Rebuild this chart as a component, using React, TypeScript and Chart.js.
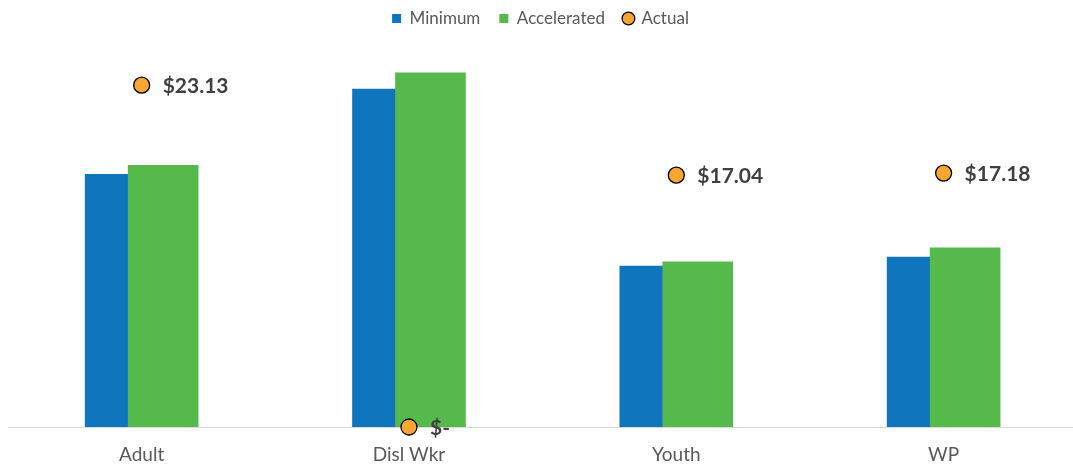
import React, { useEffect, useRef } from "react";
import { Chart, registerables } from "chart.js";

Chart.register(...registerables);

const categories = ["Adult", "Disl Wkr", "Youth", "WP"];
const minimumValues = [17.09, 22.87, 10.89, 11.49];
const acceleratedValues = [17.71, 23.97, 11.18, 12.12];
const actualValues = [23.13, 0, 17.04, 17.18];

const BLUE = "#0F75BD";
const GREEN = "#56B94B";
const ORANGE = "#F9A533";
const BAR_SHIFT = 0.0804;

const formatMoney = (v: number) => (v === 0 ? "$-" : "$" + v.toFixed(2));

const labelPlugin = {
  id: "actualLabels",
  afterDatasetsDraw(chart: any) {
    const meta = chart.getDatasetMeta(2);
    const ctx = chart.ctx;
    ctx.save();
    ctx.font = "bold 21px Lato";
    ctx.fillStyle = "#404040";
    ctx.textAlign = "left";
    ctx.textBaseline = "middle";
    meta.data.forEach((pt: any, i: number) => {
      ctx.fillText(formatMoney(actualValues[i]), pt.x + 21, pt.y + 1);
    });
    ctx.restore();
  },
};

export default function App() {
  const ref = useRef<HTMLCanvasElement | null>(null);
  useEffect(() => {
    if (!ref.current) return;
    const chart = new Chart(ref.current, {
      type: "bar",
      data: {
        datasets: [
          {
            label: "Minimum",
            data: minimumValues.map((v, i) => ({ x: i - BAR_SHIFT, y: v })),
            backgroundColor: BLUE,
            barThickness: 70,
            grouped: false,
            order: 2,
          } as any,
          {
            label: "Accelerated",
            data: acceleratedValues.map((v, i) => ({ x: i + BAR_SHIFT, y: v })),
            backgroundColor: GREEN,
            barThickness: 70,
            grouped: false,
            order: 1,
          } as any,
          {
            type: "scatter",
            label: "Actual",
            data: actualValues.map((v, i) => ({ x: i, y: v })),
            backgroundColor: ORANGE,
            borderColor: "#000000",
            borderWidth: 1.3,
            pointRadius: 8,
            clip: false,
            order: 0,
          } as any,
        ],
      },
      options: {
        animation: false,
        responsive: true,
        maintainAspectRatio: false,
        layout: { autoPadding: false, padding: { left: 8, right: 0, top: -9, bottom: 0 } },
        scales: {
          x: {
            type: "linear",
            offset: false,
            min: -0.5,
            max: 3.484,
            grid: { display: false, drawTicks: false },
            border: { display: true, color: "#D9D9D9", width: 1 },
            afterFit: (s: any) => {
              s.height = 39;
              s.paddingLeft = 0;
              s.paddingRight = 0;
            },
            ticks: {
              stepSize: 1,
              autoSkip: false,
              includeBounds: false,
              maxRotation: 0,
              padding: 16,
              color: "#595959",
              font: { family: "Lato", size: 19 },
              callback: (v: any) =>
                Number.isInteger(v) && categories[v] !== undefined ? categories[v] : "",
            },
          },
          y: {
            display: false,
            min: 0,
            max: 26.39,
          },
        },
        plugins: {
          tooltip: { enabled: false },
          legend: {
            position: "top",
            labels: {
              usePointStyle: true,
              boxWidth: 9,
              boxHeight: 9,
              padding: 19,
              color: "#595959",
              font: { family: "Lato", size: 17 },
              sort: (a: any, b: any) => a.datasetIndex - b.datasetIndex,
              generateLabels: (c: any) => {
                const items = Chart.defaults.plugins.legend.labels.generateLabels(c);
                return items.map((it: any) => ({
                  ...it,
                  pointStyle: it.datasetIndex === 2 ? "circle" : "rect",
                  lineWidth: it.datasetIndex === 2 ? 1.3 : 0,
                  strokeStyle: it.datasetIndex === 2 ? "#000000" : it.fillStyle,
                }));
              },
            },
          },
        },
      },
      plugins: [labelPlugin],
    });
    return () => chart.destroy();
  }, []);

  return (
    <div
      style={{
        position: "fixed",
        left: 0,
        top: 0,
        width: 1073,
        height: 466,
        background: "#ffffff",
      }}
    >
      <canvas ref={ref} />
    </div>
  );
}
